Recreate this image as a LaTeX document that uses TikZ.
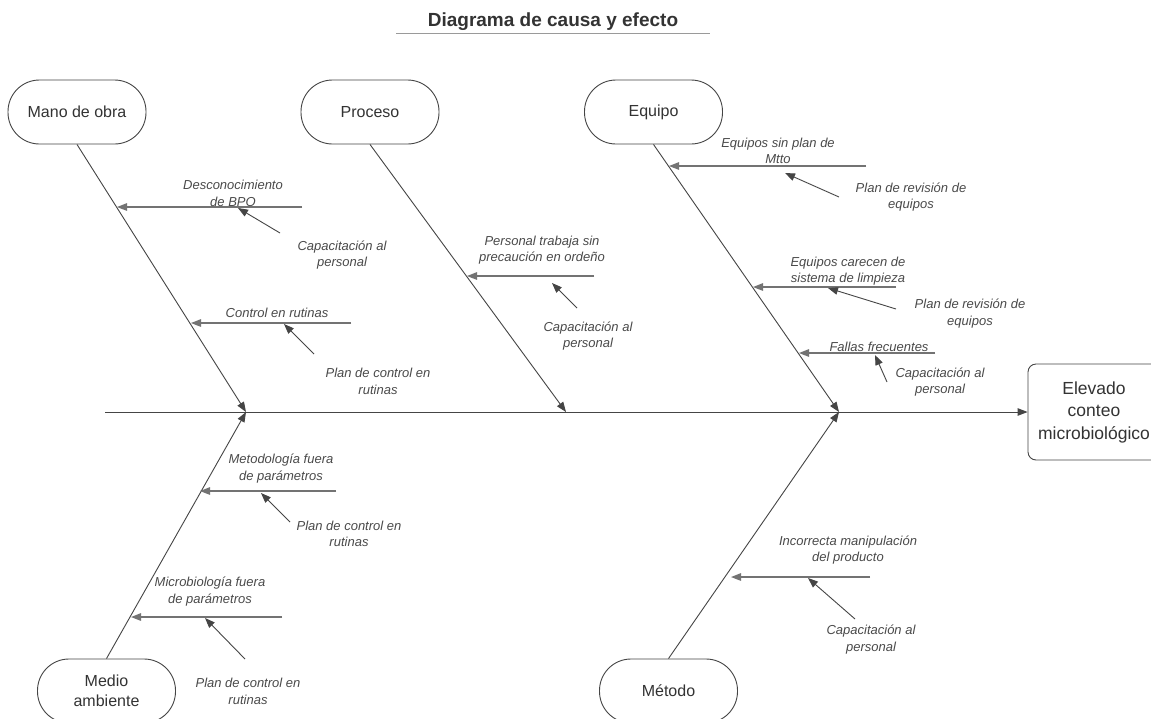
\documentclass[tikz,border=0pt]{standalone}
\usepackage{fontspec}
\setmainfont{Liberation Sans}
\usetikzlibrary{arrows.meta}
\definecolor{ink}{HTML}{333333}
\definecolor{soft}{HTML}{4A4A4A}
\definecolor{bonec}{HTML}{454545}
\definecolor{branchc}{HTML}{737373}
\definecolor{rulec}{HTML}{9A9A9A}
\begin{document}
\begin{tikzpicture}[x=1pt,y=-1pt,
  tip/.style={-{Triangle[length=10pt,width=7.5pt]}},
  category/.style={draw=bonec,line width=0.9pt,rounded corners=31.5pt,
    minimum width=138pt,minimum height=64pt,inner sep=0pt,align=center,
    text=ink,font=\fontsize{16}{20}\selectfont},
  effect/.style={draw=bonec,line width=0.9pt,rounded corners=8pt,
    minimum width=132pt,minimum height=96pt,inner sep=0pt,align=center,
    text=ink,font=\fontsize{17.5}{22.5}\selectfont},
  heading/.style={inner sep=0pt,text=ink,font=\fontsize{19}{22}\selectfont\bfseries},
  cause/.style={inner sep=0pt,align=center,text=soft,
    font=\fontsize{13}{16.5}\selectfont\itshape},
  bone/.style={tip,draw=bonec,line width=0.9pt},
  branch/.style={tip,draw=branchc,line width=1.3pt},
  fix/.style={tip,draw=bonec,line width=0.9pt}]
\clip (0,0) rectangle (1151,718);
\fill[white] (0,0) rectangle (1151,718);

% title and its rule
\node[heading] (title) at (553,21.5) {Diagrama de causa y efecto};
\coordinate (ruleL) at (396,33);
\coordinate (ruleR) at (710,33);
\draw[rulec,line width=1pt] (ruleL) -- (ruleR);

% categories and effect
\node[category] (mano) at (77,112) {Mano de obra};
\node[category] (proceso) at (370,112) {Proceso};
\node[category] (equipo) at (653.5,112) {Equipo};
\node[category] (medio) at (106.5,691) {Medio\\ambiente};
\node[category] (metodo) at (668.5,691) {Método};
\node[effect] (efecto) at (1094,412) {Elevado\\conteo\\microbiológico};

% spine
\coordinate (spineL) at (105,412);
\coordinate (jA) at (246,412);
\coordinate (jB) at (566,412);
\coordinate (jC) at (839,412);
\draw[bone] (spineL) -- (efecto.west);

% main bones
\draw[bone] (mano.south) -- (jA);
\draw[bone] (medio.north) -- (jA);
\draw[bone] (proceso.south) -- (jB);
\draw[bone] (equipo.south) -- (jC);
\draw[bone] (metodo.north) -- (jC);

% causes: horizontal branches (start, tip)
\coordinate (b1s) at (302,207); \coordinate (b1t) at (117,207);
\coordinate (b2s) at (351,323); \coordinate (b2t) at (191,323);
\coordinate (b3s) at (594,276); \coordinate (b3t) at (467,276);
\coordinate (b4s) at (866,166); \coordinate (b4t) at (669,166);
\coordinate (b5s) at (896,287); \coordinate (b5t) at (753,287);
\coordinate (b6s) at (935,353); \coordinate (b6t) at (799,353);
\coordinate (b7s) at (336,491); \coordinate (b7t) at (200,491);
\coordinate (b8s) at (282,617); \coordinate (b8t) at (131,617);
\coordinate (b9s) at (870,577); \coordinate (b9t) at (731,577);
\foreach \i in {1,...,9} {\draw[branch] (b\i s) -- (b\i t);}

% remedies: short arrows onto the branches
\coordinate (s1s) at (280,233); \coordinate (s1t) at (238,208);
\coordinate (s2s) at (314,354); \coordinate (s2t) at (284,324);
\coordinate (s3s) at (577,308); \coordinate (s3t) at (552,283);
\coordinate (s4s) at (839,197); \coordinate (s4t) at (785,173);
\coordinate (s5s) at (896,309); \coordinate (s5t) at (828,288);
\coordinate (s6s) at (887,382); \coordinate (s6t) at (875,355);
\coordinate (s7s) at (290,522); \coordinate (s7t) at (261,493);
\coordinate (s8s) at (245,659); \coordinate (s8t) at (205,618);
\coordinate (s9s) at (855,619); \coordinate (s9t) at (808,578);
\foreach \i in {1,...,9} {\draw[fix] (s\i s) -- (s\i t);}

% cause labels
\node[cause] (c1) at (233,193.5) {Desconocimiento\\de BPO};
\node[cause] (c2) at (277,313) {Control en rutinas};
\node[cause] (c3) at (542,250) {Personal trabaja sin\\precaución en ordeño};
\node[cause] (c4) at (778,151) {Equipos sin plan de\\Mtto};
\node[cause] (c5) at (848,271) {Equipos carecen de\\sistema de limpieza};
\node[cause] (c6) at (879,347) {Fallas frecuentes};
\node[cause] (c7) at (281,468.5) {Metodología fuera\\de parámetros};
\node[cause] (c8) at (210,591.5) {Microbiología fuera\\de parámetros};
\node[cause] (c9) at (848,550) {Incorrecta manipulación\\del producto};

% remedy labels
\node[cause] (r1) at (342,255) {Capacitación al\\personal};
\node[cause] (r2) at (378,381.5) {Plan de control en\\rutinas};
\node[cause] (r3) at (588,336) {Capacitación al\\personal};
\node[cause] (r4) at (911,197) {Plan de revisión de\\equipos};
\node[cause] (r5) at (970,313.5) {Plan de revisión de\\equipos};
\node[cause] (r6) at (940,382) {Capacitación al\\personal};
\node[cause] (r7) at (349,534) {Plan de control en\\rutinas};
\node[cause] (r8) at (248,691.5) {Plan de control en\\rutinas};
\node[cause] (r9) at (871,639.5) {Capacitación al\\personal};
\end{tikzpicture}
\end{document}
